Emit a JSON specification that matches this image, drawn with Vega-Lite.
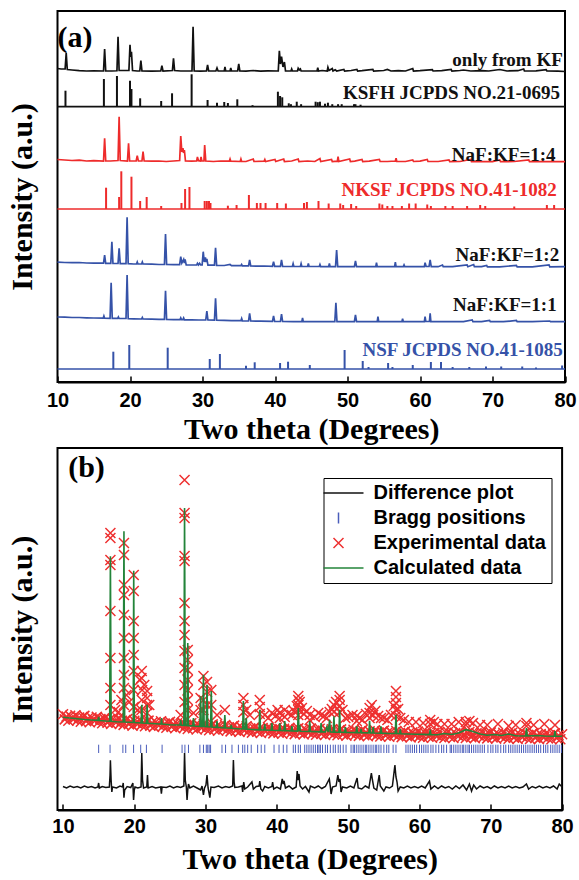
{
  "$schema": "https://vega.github.io/schema/vega-lite/v6.json",
  "background": "white",
  "padding": {"left": 6.5, "top": 10, "right": 8, "bottom": 0},
  "config": {
    "view": {"stroke": "black", "strokeWidth": 2},
    "font": "Liberation Sans"
  },
  "datasets": {
    "aLines": [
      {"s":"KF","x":10,"y":313.5},{"s":"KF","x":10.5,"y":313},{"s":"KF","x":11.05,"y":313},{"s":"KF","x":11.2,"y":329},{"s":"KF","x":11.35,"y":312.5},{"s":"KF","x":12,"y":312},{"s":"KF","x":13,"y":311.3},{"s":"KF","x":14,"y":311},{"s":"KF","x":15,"y":311.2},{"s":"KF","x":16.35,"y":311},{"s":"KF","x":16.5,"y":333},{"s":"KF","x":16.65,"y":311},{"s":"KF","x":17.5,"y":311},{"s":"KF","x":18.2,"y":311.2},{"s":"KF","x":18.35,"y":345.3},{"s":"KF","x":18.5,"y":311.5},{"s":"KF","x":19.85,"y":311.5},{"s":"KF","x":20.0,"y":337.3},{"s":"KF","x":20.1,"y":325},{"s":"KF","x":20.2,"y":330.3},{"s":"KF","x":20.35,"y":311.5},{"s":"KF","x":21,"y":311},{"s":"KF","x":21.35,"y":311},{"s":"KF","x":21.5,"y":321.3},{"s":"KF","x":21.65,"y":311},{"s":"KF","x":23,"y":310.8},{"s":"KF","x":24.25,"y":311},{"s":"KF","x":24.4,"y":316.3},{"s":"KF","x":24.55,"y":311},{"s":"KF","x":25.85,"y":311.5},{"s":"KF","x":26.0,"y":323.7},{"s":"KF","x":26.15,"y":311.5},{"s":"KF","x":27,"y":311},{"s":"KF","x":28.55,"y":311},{"s":"KF","x":28.7,"y":355.3},{"s":"KF","x":28.85,"y":311},{"s":"KF","x":29.7,"y":310.8},{"s":"KF","x":30.55,"y":311},{"s":"KF","x":30.7,"y":317},{"s":"KF","x":30.85,"y":311},{"s":"KF","x":31.85,"y":311},{"s":"KF","x":32.0,"y":314},{"s":"KF","x":32.15,"y":311},{"s":"KF","x":33.0,"y":311},{"s":"KF","x":33.1,"y":315},{"s":"KF","x":33.2,"y":311},{"s":"KF","x":33.8,"y":311},{"s":"KF","x":33.9,"y":314},{"s":"KF","x":34.0,"y":311},{"s":"KF","x":34.85,"y":311},{"s":"KF","x":35.0,"y":318},{"s":"KF","x":35.15,"y":311},{"s":"KF","x":36,"y":310.8},{"s":"KF","x":37,"y":311.5},{"s":"KF","x":38,"y":310.8},{"s":"KF","x":39,"y":311.2},{"s":"KF","x":40.45,"y":311},{"s":"KF","x":40.6,"y":331.3},{"s":"KF","x":40.75,"y":318},{"s":"KF","x":40.9,"y":325.3},{"s":"KF","x":41.1,"y":315},{"s":"KF","x":41.3,"y":320},{"s":"KF","x":41.45,"y":311},{"s":"KF","x":42.2,"y":311},{"s":"KF","x":42.3,"y":313},{"s":"KF","x":42.4,"y":311},{"s":"KF","x":43.1,"y":311},{"s":"KF","x":43.2,"y":313.7},{"s":"KF","x":43.35,"y":312},{"s":"KF","x":43.5,"y":313},{"s":"KF","x":43.6,"y":311},{"s":"KF","x":44.5,"y":311},{"s":"KF","x":45.8,"y":311},{"s":"KF","x":45.9,"y":314.3},{"s":"KF","x":46.0,"y":311},{"s":"KF","x":46.5,"y":311.5},{"s":"KF","x":47.2,"y":311},{"s":"KF","x":47.3,"y":314.7},{"s":"KF","x":47.45,"y":311.5},{"s":"KF","x":47.9,"y":313.5},{"s":"KF","x":48.0,"y":311},{"s":"KF","x":48.3,"y":312.3},{"s":"KF","x":48.5,"y":311},{"s":"KF","x":49.5,"y":312.5},{"s":"KF","x":49.6,"y":311},{"s":"KF","x":50.5,"y":311.5},{"s":"KF","x":51.3,"y":312.5},{"s":"KF","x":51.4,"y":311},{"s":"KF","x":52,"y":311.3},{"s":"KF","x":53.5,"y":312.5},{"s":"KF","x":53.6,"y":311},{"s":"KF","x":55,"y":311.5},{"s":"KF","x":55.5,"y":312.5},{"s":"KF","x":56,"y":311},{"s":"KF","x":57,"y":311.3},{"s":"KF","x":58,"y":311},{"s":"KF","x":59.0,"y":313.5},{"s":"KF","x":59.1,"y":311},{"s":"KF","x":60,"y":311.3},{"s":"KF","x":61.7,"y":312.3},{"s":"KF","x":61.8,"y":311},{"s":"KF","x":63,"y":311.3},{"s":"KF","x":64.3,"y":312.5},{"s":"KF","x":64.4,"y":311},{"s":"KF","x":65.5,"y":311.5},{"s":"KF","x":66,"y":312},{"s":"KF","x":67,"y":311},{"s":"KF","x":68.5,"y":311.3},{"s":"KF","x":69.5,"y":311},{"s":"KF","x":71,"y":312.5},{"s":"KF","x":72,"y":311},{"s":"KF","x":73.5,"y":311.3},{"s":"KF","x":74.3,"y":313},{"s":"KF","x":74.4,"y":311},{"s":"KF","x":76,"y":311.2},{"s":"KF","x":77.4,"y":312.3},{"s":"KF","x":77.5,"y":311},{"s":"KF","x":79,"y":310.8},{"s":"KF","x":80,"y":310.5},
      {"s":"KSFH","x":10,"y":275.3},{"s":"KSFH","x":80,"y":275.3},
      {"s":"r14","x":10,"y":222.5},{"s":"r14","x":11,"y":222},{"s":"r14","x":12,"y":221.5},{"s":"r14","x":13,"y":221.8},{"s":"r14","x":14,"y":221},{"s":"r14","x":15,"y":221.3},{"s":"r14","x":16.35,"y":221},{"s":"r14","x":16.5,"y":243.7},{"s":"r14","x":16.65,"y":221},{"s":"r14","x":17.3,"y":221},{"s":"r14","x":18.35,"y":221.5},{"s":"r14","x":18.5,"y":265.3},{"s":"r14","x":18.65,"y":221.5},{"s":"r14","x":19.65,"y":221},{"s":"r14","x":19.8,"y":238.7},{"s":"r14","x":19.95,"y":221},{"s":"r14","x":20.85,"y":221},{"s":"r14","x":21.0,"y":226.3},{"s":"r14","x":21.15,"y":221},{"s":"r14","x":21.65,"y":221},{"s":"r14","x":21.8,"y":230.3},{"s":"r14","x":21.95,"y":221},{"s":"r14","x":23,"y":220.8},{"s":"r14","x":24,"y":221},{"s":"r14","x":25,"y":220.5},{"s":"r14","x":26,"y":221},{"s":"r14","x":26.85,"y":221.5},{"s":"r14","x":27.0,"y":246},{"s":"r14","x":27.15,"y":230},{"s":"r14","x":27.3,"y":234},{"s":"r14","x":27.4,"y":229},{"s":"r14","x":27.5,"y":232},{"s":"r14","x":27.65,"y":221},{"s":"r14","x":28.5,"y":220.8},{"s":"r14","x":29.2,"y":221},{"s":"r14","x":29.3,"y":225},{"s":"r14","x":29.45,"y":221.3},{"s":"r14","x":29.7,"y":221},{"s":"r14","x":29.8,"y":225},{"s":"r14","x":29.9,"y":221},{"s":"r14","x":30.2,"y":221},{"s":"r14","x":30.3,"y":237},{"s":"r14","x":30.45,"y":221},{"s":"r14","x":31.5,"y":220.5},{"s":"r14","x":32.5,"y":221},{"s":"r14","x":33.7,"y":220.8},{"s":"r14","x":33.8,"y":223},{"s":"r14","x":33.9,"y":220.8},{"s":"r14","x":35.2,"y":220.5},{"s":"r14","x":35.3,"y":223},{"s":"r14","x":35.4,"y":220.5},{"s":"r14","x":36,"y":220.5},{"s":"r14","x":37.0,"y":223},{"s":"r14","x":37.1,"y":220.5},{"s":"r14","x":38.5,"y":220.8},{"s":"r14","x":38.6,"y":222.5},{"s":"r14","x":38.7,"y":220.5},{"s":"r14","x":40.0,"y":222.5},{"s":"r14","x":40.1,"y":220.5},{"s":"r14","x":41.2,"y":223},{"s":"r14","x":41.3,"y":220.5},{"s":"r14","x":42.3,"y":221},{"s":"r14","x":43.2,"y":223},{"s":"r14","x":43.3,"y":220.5},{"s":"r14","x":44.5,"y":221},{"s":"r14","x":45.5,"y":220.5},{"s":"r14","x":46.2,"y":223.5},{"s":"r14","x":46.3,"y":220.5},{"s":"r14","x":47.8,"y":222.5},{"s":"r14","x":47.9,"y":220.5},{"s":"r14","x":48.6,"y":220.8},{"s":"r14","x":48.7,"y":225.3},{"s":"r14","x":48.8,"y":220.5},{"s":"r14","x":50.3,"y":223},{"s":"r14","x":50.4,"y":220.5},{"s":"r14","x":51,"y":220.8},{"s":"r14","x":52,"y":222.5},{"s":"r14","x":52.1,"y":220.5},{"s":"r14","x":53,"y":220.8},{"s":"r14","x":54.4,"y":222.5},{"s":"r14","x":54.5,"y":220.5},{"s":"r14","x":55.5,"y":220.5},{"s":"r14","x":56.6,"y":221},{"s":"r14","x":56.7,"y":223.7},{"s":"r14","x":56.8,"y":220.5},{"s":"r14","x":58,"y":220.5},{"s":"r14","x":59,"y":222},{"s":"r14","x":59.1,"y":220.5},{"s":"r14","x":60,"y":220.8},{"s":"r14","x":61,"y":222.5},{"s":"r14","x":61.1,"y":220.5},{"s":"r14","x":62.5,"y":220.5},{"s":"r14","x":64,"y":222},{"s":"r14","x":64.1,"y":220.3},{"s":"r14","x":65.5,"y":220.5},{"s":"r14","x":67,"y":222.5},{"s":"r14","x":67.1,"y":220.3},{"s":"r14","x":68.5,"y":220.5},{"s":"r14","x":70,"y":220.3},{"s":"r14","x":71,"y":222},{"s":"r14","x":71.1,"y":220.3},{"s":"r14","x":73,"y":220.5},{"s":"r14","x":75,"y":222},{"s":"r14","x":75.1,"y":220.3},{"s":"r14","x":77,"y":220.5},{"s":"r14","x":78.5,"y":220.3},{"s":"r14","x":80,"y":220.3},
      {"s":"NKSF","x":10,"y":173},{"s":"NKSF","x":80,"y":173},
      {"s":"r12","x":10,"y":119.8},{"s":"r12","x":11,"y":119.5},{"s":"r12","x":12,"y":119.3},{"s":"r12","x":13,"y":119.5},{"s":"r12","x":14,"y":119},{"s":"r12","x":15,"y":118.8},{"s":"r12","x":16.35,"y":118.8},{"s":"r12","x":16.5,"y":127},{"s":"r12","x":16.65,"y":118.6},{"s":"r12","x":17.35,"y":118.6},{"s":"r12","x":17.5,"y":140.3},{"s":"r12","x":17.65,"y":118.5},{"s":"r12","x":18.35,"y":118.5},{"s":"r12","x":18.5,"y":133.7},{"s":"r12","x":18.65,"y":118.4},{"s":"r12","x":19.45,"y":118.4},{"s":"r12","x":19.6,"y":164.7},{"s":"r12","x":19.75,"y":118.4},{"s":"r12","x":20.5,"y":118},{"s":"r12","x":20.9,"y":118},{"s":"r12","x":21.0,"y":120},{"s":"r12","x":21.1,"y":118},{"s":"r12","x":21.6,"y":118},{"s":"r12","x":21.7,"y":120},{"s":"r12","x":21.8,"y":118},{"s":"r12","x":23,"y":117.8},{"s":"r12","x":24,"y":117.5},{"s":"r12","x":24.75,"y":117.5},{"s":"r12","x":24.9,"y":148},{"s":"r12","x":25.05,"y":117.5},{"s":"r12","x":26,"y":117.3},{"s":"r12","x":26.85,"y":117.3},{"s":"r12","x":27.0,"y":125.3},{"s":"r12","x":27.15,"y":119},{"s":"r12","x":27.4,"y":122.7},{"s":"r12","x":27.5,"y":119},{"s":"r12","x":27.6,"y":122.7},{"s":"r12","x":27.75,"y":117.2},{"s":"r12","x":29.2,"y":117},{"s":"r12","x":29.3,"y":118.7},{"s":"r12","x":29.45,"y":117},{"s":"r12","x":29.6,"y":118.7},{"s":"r12","x":29.75,"y":117},{"s":"r12","x":29.95,"y":117},{"s":"r12","x":30.1,"y":130.3},{"s":"r12","x":30.25,"y":120},{"s":"r12","x":30.4,"y":124.7},{"s":"r12","x":30.5,"y":120},{"s":"r12","x":30.6,"y":123},{"s":"r12","x":30.75,"y":116.8},{"s":"r12","x":31.65,"y":116.8},{"s":"r12","x":31.8,"y":134.3},{"s":"r12","x":31.95,"y":116.7},{"s":"r12","x":33,"y":116.5},{"s":"r12","x":33.8,"y":117.5},{"s":"r12","x":34,"y":116.3},{"s":"r12","x":35.3,"y":116.3},{"s":"r12","x":35.4,"y":117.5},{"s":"r12","x":35.5,"y":116.2},{"s":"r12","x":36.35,"y":116.2},{"s":"r12","x":36.5,"y":122},{"s":"r12","x":36.65,"y":116},{"s":"r12","x":37.5,"y":115.8},{"s":"r12","x":38.5,"y":116},{"s":"r12","x":39.65,"y":115.7},{"s":"r12","x":39.8,"y":120.3},{"s":"r12","x":39.95,"y":115.7},{"s":"r12","x":40.75,"y":115.7},{"s":"r12","x":40.9,"y":122},{"s":"r12","x":41.05,"y":115.7},{"s":"r12","x":42.4,"y":115.5},{"s":"r12","x":42.5,"y":118.3},{"s":"r12","x":42.6,"y":115.5},{"s":"r12","x":43.5,"y":115.5},{"s":"r12","x":43.6,"y":118.3},{"s":"r12","x":43.7,"y":115.5},{"s":"r12","x":44.5,"y":115.5},{"s":"r12","x":44.6,"y":118.5},{"s":"r12","x":44.7,"y":115.5},{"s":"r12","x":46.1,"y":115.5},{"s":"r12","x":46.2,"y":117.5},{"s":"r12","x":46.3,"y":115.4},{"s":"r12","x":47.4,"y":115.4},{"s":"r12","x":47.5,"y":118.5},{"s":"r12","x":47.6,"y":115.4},{"s":"r12","x":48.35,"y":115.4},{"s":"r12","x":48.5,"y":132},{"s":"r12","x":48.65,"y":115.4},{"s":"r12","x":49.5,"y":115.3},{"s":"r12","x":50.95,"y":115.3},{"s":"r12","x":51.1,"y":121},{"s":"r12","x":51.25,"y":115.3},{"s":"r12","x":52.5,"y":115.3},{"s":"r12","x":53.9,"y":115.3},{"s":"r12","x":54.0,"y":119.3},{"s":"r12","x":54.1,"y":115.3},{"s":"r12","x":55.5,"y":115.3},{"s":"r12","x":56.5,"y":115.3},{"s":"r12","x":56.6,"y":119.8},{"s":"r12","x":56.7,"y":115.3},{"s":"r12","x":57.7,"y":115.3},{"s":"r12","x":57.8,"y":117},{"s":"r12","x":57.9,"y":115.3},{"s":"r12","x":59,"y":115.3},{"s":"r12","x":60.6,"y":115.3},{"s":"r12","x":60.7,"y":119.3},{"s":"r12","x":60.85,"y":115.5},{"s":"r12","x":61.25,"y":115.5},{"s":"r12","x":61.4,"y":122},{"s":"r12","x":61.55,"y":115.3},{"s":"r12","x":62.5,"y":115.3},{"s":"r12","x":63.1,"y":117},{"s":"r12","x":63.2,"y":115.3},{"s":"r12","x":64.5,"y":115.3},{"s":"r12","x":66.5,"y":117},{"s":"r12","x":66.6,"y":115.3},{"s":"r12","x":67.4,"y":117.5},{"s":"r12","x":67.5,"y":115.3},{"s":"r12","x":68.5,"y":115.3},{"s":"r12","x":69.2,"y":116.5},{"s":"r12","x":69.3,"y":115.2},{"s":"r12","x":71,"y":115.2},{"s":"r12","x":73.3,"y":116.5},{"s":"r12","x":73.4,"y":115.2},{"s":"r12","x":75.5,"y":115.2},{"s":"r12","x":77.8,"y":117},{"s":"r12","x":77.9,"y":115.2},{"s":"r12","x":80,"y":115.3},
      {"s":"r11","x":10,"y":65},{"s":"r11","x":11,"y":64.8},{"s":"r11","x":12,"y":64.5},{"s":"r11","x":13,"y":64.5},{"s":"r11","x":14,"y":64.2},{"s":"r11","x":15,"y":64},{"s":"r11","x":16.3,"y":63.8},{"s":"r11","x":16.4,"y":66},{"s":"r11","x":16.5,"y":63.8},{"s":"r11","x":17.25,"y":63.7},{"s":"r11","x":17.4,"y":99.3},{"s":"r11","x":17.55,"y":63.7},{"s":"r11","x":18.3,"y":63.6},{"s":"r11","x":18.4,"y":65},{"s":"r11","x":18.5,"y":63.5},{"s":"r11","x":19.45,"y":63.5},{"s":"r11","x":19.6,"y":107},{"s":"r11","x":19.75,"y":63.4},{"s":"r11","x":20.5,"y":63.2},{"s":"r11","x":21.6,"y":63},{"s":"r11","x":21.7,"y":64.5},{"s":"r11","x":21.8,"y":63},{"s":"r11","x":23,"y":62.8},{"s":"r11","x":24,"y":62.6},{"s":"r11","x":24.75,"y":62.6},{"s":"r11","x":24.9,"y":91.3},{"s":"r11","x":25.05,"y":62.5},{"s":"r11","x":26,"y":62.4},{"s":"r11","x":26.9,"y":62.3},{"s":"r11","x":27.0,"y":64},{"s":"r11","x":27.1,"y":62.3},{"s":"r11","x":27.3,"y":62.3},{"s":"r11","x":27.4,"y":64},{"s":"r11","x":27.5,"y":62.2},{"s":"r11","x":28.5,"y":62.1},{"s":"r11","x":29.5,"y":62},{"s":"r11","x":30.45,"y":62},{"s":"r11","x":30.6,"y":71},{"s":"r11","x":30.75,"y":62},{"s":"r11","x":31.65,"y":61.9},{"s":"r11","x":31.8,"y":83.7},{"s":"r11","x":31.95,"y":61.8},{"s":"r11","x":33,"y":61.6},{"s":"r11","x":34,"y":61.4},{"s":"r11","x":35.3,"y":61.3},{"s":"r11","x":35.4,"y":63.5},{"s":"r11","x":35.5,"y":61.2},{"s":"r11","x":36.35,"y":61},{"s":"r11","x":36.5,"y":68.7},{"s":"r11","x":36.65,"y":61},{"s":"r11","x":38,"y":60.8},{"s":"r11","x":39.65,"y":60.6},{"s":"r11","x":39.8,"y":66},{"s":"r11","x":39.95,"y":60.6},{"s":"r11","x":40.75,"y":60.5},{"s":"r11","x":40.9,"y":68},{"s":"r11","x":41.05,"y":60.5},{"s":"r11","x":42.5,"y":60.4},{"s":"r11","x":43.7,"y":60.4},{"s":"r11","x":43.8,"y":64},{"s":"r11","x":43.9,"y":60.4},{"s":"r11","x":45,"y":60.3},{"s":"r11","x":46.5,"y":60.3},{"s":"r11","x":48.25,"y":60.3},{"s":"r11","x":48.4,"y":79.3},{"s":"r11","x":48.55,"y":60.3},{"s":"r11","x":49.5,"y":60.3},{"s":"r11","x":50.95,"y":60.3},{"s":"r11","x":51.1,"y":67},{"s":"r11","x":51.25,"y":60.3},{"s":"r11","x":52.5,"y":60.3},{"s":"r11","x":54.1,"y":60.3},{"s":"r11","x":54.2,"y":65.3},{"s":"r11","x":54.3,"y":60.3},{"s":"r11","x":56,"y":60.3},{"s":"r11","x":57.5,"y":60.3},{"s":"r11","x":57.6,"y":63.3},{"s":"r11","x":57.7,"y":60.3},{"s":"r11","x":59,"y":60.3},{"s":"r11","x":60.6,"y":60.3},{"s":"r11","x":60.7,"y":65.3},{"s":"r11","x":60.8,"y":60.5},{"s":"r11","x":61.3,"y":60.5},{"s":"r11","x":61.4,"y":68.7},{"s":"r11","x":61.5,"y":60.3},{"s":"r11","x":63,"y":60.3},{"s":"r11","x":64.5,"y":60.3},{"s":"r11","x":66,"y":60.3},{"s":"r11","x":67.2,"y":62},{"s":"r11","x":67.3,"y":60.3},{"s":"r11","x":68.5,"y":60.3},{"s":"r11","x":69.6,"y":61.5},{"s":"r11","x":69.7,"y":60.3},{"s":"r11","x":71.5,"y":60.3},{"s":"r11","x":73.3,"y":61.5},{"s":"r11","x":73.4,"y":60.3},{"s":"r11","x":75.5,"y":60.3},{"s":"r11","x":77.9,"y":61},{"s":"r11","x":78,"y":60.3},{"s":"r11","x":80,"y":60.3},
      {"s":"NSF","x":10,"y":13},{"s":"NSF","x":80,"y":13}
    ],
    "aSticks": [
      {"s":"KSFH","x":11.1,"lo":275.3,"hi":291.3},{"s":"KSFH","x":16.4,"lo":275.3,"hi":303},{"s":"KSFH","x":18.2,"lo":275.3,"hi":306},{"s":"KSFH","x":20.0,"lo":275.3,"hi":301.3},{"s":"KSFH","x":20.2,"lo":275.3,"hi":293},{"s":"KSFH","x":21.4,"lo":275.3,"hi":283.7},{"s":"KSFH","x":24.3,"lo":275.3,"hi":281},{"s":"KSFH","x":25.8,"lo":275.3,"hi":288.7},{"s":"KSFH","x":28.5,"lo":275.3,"hi":307.7},{"s":"KSFH","x":30.7,"lo":275.3,"hi":282},{"s":"KSFH","x":32.0,"lo":275.3,"hi":279.3},{"s":"KSFH","x":33.0,"lo":275.3,"hi":280},{"s":"KSFH","x":33.5,"lo":275.3,"hi":279},{"s":"KSFH","x":34.8,"lo":275.3,"hi":282.7},{"s":"KSFH","x":36.9,"lo":275.3,"hi":276.8},{"s":"KSFH","x":40.4,"lo":275.3,"hi":290.3},{"s":"KSFH","x":40.7,"lo":275.3,"hi":286},{"s":"KSFH","x":41.0,"lo":275.3,"hi":284.7},{"s":"KSFH","x":41.9,"lo":275.3,"hi":278.7},{"s":"KSFH","x":42.2,"lo":275.3,"hi":277.8},{"s":"KSFH","x":43.0,"lo":275.3,"hi":280.3},{"s":"KSFH","x":43.6,"lo":275.3,"hi":277.8},{"s":"KSFH","x":45.6,"lo":275.3,"hi":280.3},{"s":"KSFH","x":45.9,"lo":275.3,"hi":279.8},{"s":"KSFH","x":46.2,"lo":275.3,"hi":280.3},{"s":"KSFH","x":46.9,"lo":275.3,"hi":278.3},{"s":"KSFH","x":47.3,"lo":275.3,"hi":279.3},{"s":"KSFH","x":47.9,"lo":275.3,"hi":277.8},{"s":"KSFH","x":48.7,"lo":275.3,"hi":277.8},{"s":"KSFH","x":49.2,"lo":275.3,"hi":277.8},{"s":"KSFH","x":50.9,"lo":275.3,"hi":277.8},{"s":"KSFH","x":51.1,"lo":275.3,"hi":277.8},{"s":"KSFH","x":51.8,"lo":275.3,"hi":277.3},
      {"s":"NKSF","x":16.7,"lo":173,"hi":194.3},{"s":"NKSF","x":18.5,"lo":173,"hi":185},{"s":"NKSF","x":18.8,"lo":173,"hi":210.7},{"s":"NKSF","x":20.2,"lo":173,"hi":205.3},{"s":"NKSF","x":21.4,"lo":173,"hi":181},{"s":"NKSF","x":22.3,"lo":173,"hi":185},{"s":"NKSF","x":24.3,"lo":173,"hi":176},{"s":"NKSF","x":27.1,"lo":173,"hi":179},{"s":"NKSF","x":27.6,"lo":173,"hi":193},{"s":"NKSF","x":28.2,"lo":173,"hi":195},{"s":"NKSF","x":30.3,"lo":173,"hi":181},{"s":"NKSF","x":30.6,"lo":173,"hi":181},{"s":"NKSF","x":30.9,"lo":173,"hi":181},{"s":"NKSF","x":31.1,"lo":173,"hi":179},{"s":"NKSF","x":33.5,"lo":173,"hi":176.3},{"s":"NKSF","x":34.7,"lo":173,"hi":177},{"s":"NKSF","x":36.4,"lo":173,"hi":187},{"s":"NKSF","x":37.5,"lo":173,"hi":179},{"s":"NKSF","x":38.0,"lo":173,"hi":179},{"s":"NKSF","x":38.7,"lo":173,"hi":179},{"s":"NKSF","x":40.3,"lo":173,"hi":179},{"s":"NKSF","x":41.5,"lo":173,"hi":178.5},{"s":"NKSF","x":44.0,"lo":173,"hi":179},{"s":"NKSF","x":44.4,"lo":173,"hi":180},{"s":"NKSF","x":46.0,"lo":173,"hi":181},{"s":"NKSF","x":47.4,"lo":173,"hi":178.5},{"s":"NKSF","x":49.0,"lo":173,"hi":178.5},{"s":"NKSF","x":49.4,"lo":173,"hi":177},{"s":"NKSF","x":50.5,"lo":173,"hi":178},{"s":"NKSF","x":51.2,"lo":173,"hi":176},{"s":"NKSF","x":54.4,"lo":173,"hi":178.5},{"s":"NKSF","x":54.8,"lo":173,"hi":177.5},{"s":"NKSF","x":55.5,"lo":173,"hi":176},{"s":"NKSF","x":56.2,"lo":173,"hi":176},{"s":"NKSF","x":57.5,"lo":173,"hi":176},{"s":"NKSF","x":58.5,"lo":173,"hi":178.5},{"s":"NKSF","x":59.4,"lo":173,"hi":178.5},{"s":"NKSF","x":61.0,"lo":173,"hi":177.5},{"s":"NKSF","x":61.5,"lo":173,"hi":176},{"s":"NKSF","x":63.5,"lo":173,"hi":176},{"s":"NKSF","x":64.5,"lo":173,"hi":176},{"s":"NKSF","x":66.5,"lo":173,"hi":176},{"s":"NKSF","x":68.3,"lo":173,"hi":177},{"s":"NKSF","x":69.0,"lo":173,"hi":176},{"s":"NKSF","x":73.0,"lo":173,"hi":175.5},{"s":"NKSF","x":77.5,"lo":173,"hi":177},{"s":"NKSF","x":78.5,"lo":173,"hi":177},
      {"s":"NSF","x":17.7,"lo":13,"hi":30.3},{"s":"NSF","x":19.9,"lo":13,"hi":37},{"s":"NSF","x":25.2,"lo":13,"hi":34.3},{"s":"NSF","x":31.0,"lo":13,"hi":23},{"s":"NSF","x":32.4,"lo":13,"hi":28},{"s":"NSF","x":36.0,"lo":13,"hi":16.3},{"s":"NSF","x":37.2,"lo":13,"hi":19.7},{"s":"NSF","x":40.7,"lo":13,"hi":19},{"s":"NSF","x":41.8,"lo":13,"hi":20.3},{"s":"NSF","x":44.8,"lo":13,"hi":17},{"s":"NSF","x":49.6,"lo":13,"hi":32},{"s":"NSF","x":52.1,"lo":13,"hi":21},{"s":"NSF","x":52.9,"lo":13,"hi":15},{"s":"NSF","x":55.6,"lo":13,"hi":19},{"s":"NSF","x":56.2,"lo":13,"hi":15},{"s":"NSF","x":59.0,"lo":13,"hi":17},{"s":"NSF","x":61.5,"lo":13,"hi":20},{"s":"NSF","x":62.9,"lo":13,"hi":20},{"s":"NSF","x":64.5,"lo":13,"hi":15},{"s":"NSF","x":66.8,"lo":13,"hi":15},{"s":"NSF","x":69.1,"lo":13,"hi":15.5},{"s":"NSF","x":71.2,"lo":13,"hi":15.5},{"s":"NSF","x":74.1,"lo":13,"hi":15.5},{"s":"NSF","x":76.0,"lo":13,"hi":14.5},{"s":"NSF","x":79.6,"lo":13,"hi":16.5}
    ],
    "aText": [
      {"t":"only from KF","x":79.7,"y":322,"g":"k"},
      {"t":"KSFH JCPDS NO.21-0695","x":79.3,"y":289.3,"g":"k"},
      {"t":"NaF:KF=1:4","x":78.7,"y":227,"g":"k"},
      {"t":"NKSF JCPDS NO.41-1082","x":78.85,"y":192,"g":"r"},
      {"t":"NaF:KF=1:2","x":79.2,"y":127,"g":"k"},
      {"t":"NaF:KF=1:1","x":78.85,"y":77,"g":"k"},
      {"t":"NSF JCPDS NO.41-1085","x":79.7,"y":32,"g":"b"}
    ],
    "exp": [
      {"x":10,"y":95.7},{"x":10.25,"y":90.6},{"x":10.5,"y":93.4},{"x":10.75,"y":89.3},{"x":11,"y":94.2},{"x":11.25,"y":92},{"x":11.5,"y":90.9},{"x":11.75,"y":94.7},{"x":12,"y":89.6},{"x":12.25,"y":92.5},{"x":12.5,"y":88.3},{"x":12.75,"y":93.2},{"x":13,"y":94.1},{"x":13.25,"y":88.9},{"x":13.5,"y":91.8},{"x":13.75,"y":87.7},{"x":14,"y":92.5},{"x":14.25,"y":90.4},{"x":14.5,"y":89.3},{"x":14.75,"y":93.1},{"x":15,"y":88},{"x":15.25,"y":90.9},{"x":15.5,"y":86.7},{"x":15.75,"y":91.6},{"x":16,"y":92.5},{"x":16.25,"y":87.3},{"x":16.5,"y":90.2},{"x":16.75,"y":86.1},{"x":17,"y":90.9},{"x":17.25,"y":88.8},{"x":17.5,"y":87.7},{"x":17.75,"y":91.5},{"x":18,"y":86.4},{"x":18.25,"y":89.3},{"x":18.5,"y":85.1},{"x":18.75,"y":90},{"x":19,"y":90.9},{"x":19.25,"y":85.7},{"x":19.5,"y":88.6},{"x":19.75,"y":84.4},{"x":20,"y":89.3},{"x":20.25,"y":87.2},{"x":20.5,"y":86.1},{"x":20.75,"y":90},{"x":21,"y":84.9},{"x":21.25,"y":87.8},{"x":21.5,"y":83.7},{"x":21.75,"y":88.6},{"x":22,"y":89.4},{"x":22.25,"y":84.3},{"x":22.5,"y":87.2},{"x":22.75,"y":83.1},{"x":23,"y":88},{"x":23.25,"y":85.9},{"x":23.5,"y":84.8},{"x":23.75,"y":88.7},{"x":24,"y":83.6},{"x":24.25,"y":86.5},{"x":24.5,"y":82.3},{"x":24.75,"y":87.2},{"x":25,"y":88.1},{"x":25.25,"y":83},{"x":25.5,"y":85.9},{"x":25.75,"y":81.8},{"x":26,"y":86.7},{"x":26.25,"y":84.6},{"x":26.5,"y":83.5},{"x":26.75,"y":87.4},{"x":27,"y":82.2},{"x":27.25,"y":85.1},{"x":27.5,"y":81},{"x":27.75,"y":85.9},{"x":28,"y":86.8},{"x":28.25,"y":81.7},{"x":28.5,"y":84.6},{"x":28.75,"y":80.5},{"x":29,"y":85.4},{"x":29.25,"y":83.3},{"x":29.5,"y":82.2},{"x":29.75,"y":86.1},{"x":30,"y":81},{"x":30.25,"y":83.9},{"x":30.5,"y":79.8},{"x":30.75,"y":84.7},{"x":31,"y":85.6},{"x":31.25,"y":80.5},{"x":31.5,"y":83.4},{"x":31.75,"y":79.3},{"x":32,"y":84.2},{"x":32.25,"y":82.1},{"x":32.5,"y":81},{"x":32.75,"y":84.9},{"x":33,"y":79.8},{"x":33.25,"y":82.7},{"x":33.5,"y":78.6},{"x":33.75,"y":83.5},{"x":34,"y":84.4},{"x":34.25,"y":79.3},{"x":34.5,"y":82.2},{"x":34.75,"y":78.1},{"x":35,"y":83},{"x":35.25,"y":80.9},{"x":35.5,"y":79.8},{"x":35.75,"y":83.7},{"x":36,"y":78.6},{"x":36.25,"y":81.5},{"x":36.5,"y":77.4},{"x":36.75,"y":82.3},{"x":37,"y":83.3},{"x":37.25,"y":78.2},{"x":37.5,"y":81.1},{"x":37.75,"y":77},{"x":38,"y":82},{"x":38.25,"y":79.9},{"x":38.5,"y":78.8},{"x":38.75,"y":82.8},{"x":39,"y":77.7},{"x":39.25,"y":80.6},{"x":39.5,"y":76.6},{"x":39.75,"y":81.5},{"x":40,"y":82.5},{"x":40.25,"y":77.4},{"x":40.5,"y":80.4},{"x":40.75,"y":76.3},{"x":41,"y":81.3},{"x":41.25,"y":79.2},{"x":41.5,"y":78.1},{"x":41.75,"y":82.1},{"x":42,"y":77},{"x":42.25,"y":80},{"x":42.5,"y":75.9},{"x":42.75,"y":80.9},{"x":43,"y":81.8},{"x":43.25,"y":76.7},{"x":43.5,"y":79.7},{"x":43.75,"y":75.6},{"x":44,"y":80.6},{"x":44.25,"y":78.5},{"x":44.5,"y":77.5},{"x":44.75,"y":81.4},{"x":45,"y":76.4},{"x":45.25,"y":79.3},{"x":45.5,"y":75.3},{"x":45.75,"y":80.2},{"x":46,"y":81.2},{"x":46.25,"y":76.1},{"x":46.5,"y":79.1},{"x":46.75,"y":75},{"x":47,"y":80},{"x":47.25,"y":77.9},{"x":47.5,"y":76.9},{"x":47.75,"y":80.8},{"x":48,"y":75.8},{"x":48.25,"y":78.7},{"x":48.5,"y":74.7},{"x":48.75,"y":79.6},{"x":49,"y":80.6},{"x":49.25,"y":75.5},{"x":49.5,"y":78.5},{"x":49.75,"y":74.4},{"x":50,"y":79.4},{"x":50.25,"y":77.3},{"x":50.5,"y":76.3},{"x":50.75,"y":80.2},{"x":51,"y":75.2},{"x":51.25,"y":78.1},{"x":51.5,"y":74.1},{"x":51.75,"y":79},{"x":52,"y":80},{"x":52.25,"y":74.9},{"x":52.5,"y":77.9},{"x":52.75,"y":73.8},{"x":53,"y":78.8},{"x":53.25,"y":76.7},{"x":53.5,"y":75.7},{"x":53.75,"y":79.6},{"x":54,"y":74.6},{"x":54.25,"y":77.5},{"x":54.5,"y":73.5},{"x":54.75,"y":78.4},{"x":55,"y":79.4},{"x":55.25,"y":74.3},{"x":55.5,"y":77.3},{"x":55.75,"y":73.2},{"x":56,"y":78.2},{"x":56.25,"y":76.1},{"x":56.5,"y":75.1},{"x":56.75,"y":79},{"x":57,"y":74},{"x":57.25,"y":76.9},{"x":57.5,"y":72.9},{"x":57.75,"y":77.8},{"x":58,"y":78.8},{"x":58.25,"y":73.7},{"x":58.5,"y":76.7},{"x":58.75,"y":72.6},{"x":59,"y":77.6},{"x":59.25,"y":75.5},{"x":59.5,"y":74.5},{"x":59.75,"y":78.4},{"x":60,"y":73.4},{"x":60.25,"y":76.4},{"x":60.5,"y":72.3},{"x":60.75,"y":77.3},{"x":61,"y":78.3},{"x":61.25,"y":73.2},{"x":61.5,"y":76.2},{"x":61.75,"y":72.2},{"x":62,"y":77.1},{"x":62.25,"y":75.1},{"x":62.5,"y":74.1},{"x":62.75,"y":78},{"x":63,"y":73},{"x":63.25,"y":76},{"x":63.5,"y":72},{"x":63.75,"y":77},{"x":64,"y":78},{"x":64.25,"y":73},{"x":64.5,"y":76},{"x":64.75,"y":72},{"x":65,"y":77},{"x":65.25,"y":75},{"x":65.5,"y":74},{"x":65.75,"y":78},{"x":66,"y":73},{"x":66.25,"y":76},{"x":66.5,"y":72},{"x":66.75,"y":77},{"x":67,"y":78},{"x":67.25,"y":72.9},{"x":67.5,"y":75.9},{"x":67.75,"y":71.9},{"x":68,"y":76.8},{"x":68.25,"y":74.8},{"x":68.5,"y":73.8},{"x":68.75,"y":77.7},{"x":69,"y":72.7},{"x":69.25,"y":75.7},{"x":69.5,"y":71.6},{"x":69.75,"y":76.6},{"x":70,"y":77.5},{"x":70.25,"y":72.5},{"x":70.5,"y":75.5},{"x":70.75,"y":71.4},{"x":71,"y":76.4},{"x":71.25,"y":74.4},{"x":71.5,"y":73.4},{"x":71.75,"y":77.3},{"x":72,"y":72.3},{"x":72.25,"y":75.3},{"x":72.5,"y":71.2},{"x":72.75,"y":76.2},{"x":73,"y":77.2},{"x":73.25,"y":72.2},{"x":73.5,"y":75.1},{"x":73.75,"y":71.1},{"x":74,"y":76},{"x":74.25,"y":74},{"x":74.5,"y":73},{"x":74.75,"y":77},{"x":75,"y":72},{"x":75.25,"y":75},{"x":75.5,"y":71},{"x":75.75,"y":76},{"x":76,"y":77},{"x":76.25,"y":72},{"x":76.5,"y":74.9},{"x":76.75,"y":70.9},{"x":77,"y":75.9},{"x":77.25,"y":73.9},{"x":77.5,"y":72.9},{"x":77.75,"y":76.8},{"x":78,"y":71.8},{"x":78.25,"y":74.8},{"x":78.5,"y":70.8},{"x":78.75,"y":75.8},{"x":79,"y":76.8},{"x":79.25,"y":71.7},{"x":79.5,"y":74.7},{"x":79.75,"y":70.7},{"x":80,"y":75.7},
      {"x":16.65,"y":277},{"x":16.65,"y":272},{"x":16.65,"y":250},{"x":16.65,"y":245},{"x":16.65,"y":199},{"x":16.65,"y":152},{"x":16.65,"y":122},{"x":16.65,"y":105},
      {"x":18.55,"y":267},{"x":18.55,"y":255},{"x":18.55,"y":225},{"x":18.55,"y":215},{"x":18.55,"y":195},{"x":18.55,"y":172},{"x":18.55,"y":152},{"x":18.55,"y":135},{"x":18.55,"y":122},{"x":18.55,"y":105},
      {"x":19.92,"y":235},{"x":19.92,"y":219},{"x":19.92,"y":189},{"x":19.92,"y":172},{"x":19.92,"y":155},{"x":19.92,"y":139},{"x":19.92,"y":120},{"x":19.92,"y":103},
      {"x":21.05,"y":139},{"x":21.0,"y":132},{"x":21.1,"y":120},{"x":21.05,"y":110},{"x":21.0,"y":100},
      {"x":21.8,"y":119},{"x":21.8,"y":112},{"x":21.8,"y":105},{"x":21.8,"y":97},
      {"x":18.2,"y":110},{"x":18.9,"y":115},{"x":19.3,"y":108},{"x":20.5,"y":100},{"x":21.4,"y":125},{"x":22.1,"y":105},{"x":20.8,"y":130},{"x":17.3,"y":100},{"x":17.8,"y":98},
      {"x":27.05,"y":330},{"x":27.05,"y":297},{"x":27.05,"y":292},{"x":27.05,"y":254},{"x":27.05,"y":249},{"x":27.05,"y":207},{"x":27.05,"y":189},{"x":27.05,"y":175},{"x":27.05,"y":159},{"x":27.05,"y":142},{"x":27.05,"y":125},{"x":27.05,"y":108},
      {"x":27.5,"y":160},{"x":27.5,"y":150},{"x":27.5,"y":140},{"x":27.5,"y":130},{"x":27.5,"y":120},{"x":27.5,"y":110},{"x":27.5,"y":100},{"x":26.5,"y":95},{"x":28.3,"y":97},
      {"x":29.3,"y":112},{"x":29.3,"y":100},{"x":29.7,"y":134},{"x":29.7,"y":125},{"x":29.7,"y":110},{"x":29.7,"y":100},{"x":30.2,"y":128},{"x":30.2,"y":118},{"x":30.2,"y":105},{"x":30.8,"y":120},{"x":30.8,"y":105},{"x":31.6,"y":95},{"x":32.7,"y":100},
      {"x":35.3,"y":112},{"x":35.3,"y":105},{"x":35.3,"y":98},{"x":35.7,"y":100},{"x":36.2,"y":95},{"x":37.6,"y":110},{"x":37.6,"y":103},{"x":37.6,"y":96},{"x":38.3,"y":95},{"x":39.3,"y":97},{"x":40.4,"y":97},{"x":40.4,"y":92},{"x":41.1,"y":100},{"x":41.1,"y":93},{"x":42.1,"y":95},
      {"x":43.0,"y":114},{"x":43.0,"y":110},{"x":43.0,"y":105},{"x":43.0,"y":100},{"x":43.0,"y":95},{"x":43.2,"y":108},{"x":42.8,"y":104},{"x":44.6,"y":95},{"x":44.6,"y":90},{"x":46.2,"y":95},{"x":47.0,"y":92},{"x":47.4,"y":98},{"x":48.0,"y":105},{"x":48.0,"y":98},
      {"x":48.8,"y":114},{"x":48.8,"y":110},{"x":48.8,"y":104},{"x":48.8,"y":98},{"x":49.6,"y":92},{"x":51.2,"y":94},{"x":51.2,"y":89},{"x":52.0,"y":90},{"x":53.0,"y":102},{"x":53.0,"y":97},{"x":53.0,"y":92},{"x":53.5,"y":95},{"x":54.6,"y":92},{"x":55.5,"y":90},
      {"x":56.7,"y":119},{"x":56.7,"y":113},{"x":56.7,"y":107},{"x":56.7,"y":100},{"x":56.7,"y":94},{"x":57.3,"y":92},{"x":58.5,"y":88},{"x":61.5,"y":90},{"x":61.5,"y":86},{"x":62.5,"y":86},{"x":63.5,"y":86},{"x":66.5,"y":88},{"x":66.5,"y":85},{"x":67.5,"y":87},{"x":68.5,"y":85},{"x":72.5,"y":84},{"x":75.0,"y":87},{"x":75.0,"y":84},{"x":79.0,"y":85},
      {"x":38.8,"y":92},{"x":39.8,"y":94},{"x":40.1,"y":100},{"x":41.6,"y":97},{"x":42.4,"y":99},{"x":43.5,"y":102},{"x":43.8,"y":96},{"x":44.2,"y":99},{"x":45.3,"y":93},{"x":45.8,"y":97},{"x":46.6,"y":94},{"x":47.7,"y":101},{"x":48.3,"y":108},{"x":49.2,"y":100},{"x":50.0,"y":93},{"x":50.6,"y":95},{"x":51.6,"y":92},{"x":52.5,"y":96},{"x":53.3,"y":105},{"x":53.8,"y":99},{"x":54.2,"y":94},{"x":55.0,"y":92},{"x":56.0,"y":95},{"x":56.4,"y":104},{"x":57.0,"y":101},{"x":57.8,"y":90},{"x":59.5,"y":88},{"x":60.5,"y":87},{"x":62.0,"y":88},{"x":64.5,"y":86},{"x":65.5,"y":88},{"x":67.0,"y":89},{"x":69.5,"y":85},{"x":71.0,"y":86},{"x":73.5,"y":85},{"x":76.0,"y":85},{"x":77.5,"y":86}
    ],
    "calc": [
      {"x":10,"y":92.7},{"x":11,"y":92},{"x":12,"y":91.2},{"x":13,"y":90.5},{"x":14,"y":90},{"x":14.9,"y":89.6},{"x":15.0,"y":93},{"x":15.1,"y":89.5},{"x":16,"y":89},{"x":16.55,"y":88.8},{"x":16.65,"y":253.7},{"x":16.75,"y":88.7},{"x":17.5,"y":88.3},{"x":18.45,"y":88},{"x":18.55,"y":278.7},{"x":18.65,"y":88},{"x":19.4,"y":87.7},{"x":19.85,"y":87.5},{"x":19.92,"y":239.3},{"x":20.0,"y":87.4},{"x":20.5,"y":87.2},{"x":20.95,"y":87},{"x":21.05,"y":105.3},{"x":21.15,"y":87},{"x":21.7,"y":86.8},{"x":21.8,"y":105.3},{"x":21.9,"y":86.8},{"x":22.5,"y":86.5},{"x":23.5,"y":86},{"x":23.75,"y":86},{"x":23.82,"y":92},{"x":23.9,"y":86},{"x":25,"y":85.3},{"x":26,"y":85},{"x":26.4,"y":85},{"x":26.5,"y":90},{"x":26.6,"y":84.8},{"x":26.95,"y":84.7},{"x":27.05,"y":302},{"x":27.15,"y":84.7},{"x":27.4,"y":84.5},{"x":27.5,"y":167},{"x":27.6,"y":84.4},{"x":28.2,"y":84.1},{"x":28.3,"y":92},{"x":28.4,"y":84},{"x":29.2,"y":83.7},{"x":29.3,"y":113.7},{"x":29.4,"y":83.6},{"x":29.6,"y":83.5},{"x":29.7,"y":135.3},{"x":29.8,"y":83.5},{"x":30.1,"y":83.3},{"x":30.2,"y":125.3},{"x":30.3,"y":83.2},{"x":30.7,"y":83},{"x":30.8,"y":119},{"x":30.9,"y":83},{"x":31.5,"y":82.7},{"x":31.6,"y":89},{"x":31.7,"y":82.7},{"x":32.6,"y":82.2},{"x":32.7,"y":95},{"x":32.8,"y":82.2},{"x":33.5,"y":81.8},{"x":33.6,"y":85},{"x":33.7,"y":81.7},{"x":34.5,"y":81.3},{"x":35.2,"y":81},{"x":35.3,"y":109},{"x":35.4,"y":81},{"x":35.6,"y":80.9},{"x":35.7,"y":92},{"x":35.8,"y":80.9},{"x":36.5,"y":80.5},{"x":37.5,"y":80.2},{"x":37.6,"y":100.3},{"x":37.7,"y":80.2},{"x":38.2,"y":80},{"x":38.3,"y":86},{"x":38.4,"y":80},{"x":39.2,"y":79.8},{"x":39.3,"y":87},{"x":39.4,"y":79.7},{"x":40.3,"y":79.5},{"x":40.4,"y":87},{"x":40.5,"y":79.5},{"x":41.0,"y":79.4},{"x":41.1,"y":89},{"x":41.2,"y":79.4},{"x":42.0,"y":79},{"x":42.1,"y":84},{"x":42.2,"y":79},{"x":42.9,"y":78.9},{"x":43.0,"y":102},{"x":43.1,"y":78.8},{"x":43.2,"y":85},{"x":43.3,"y":78.8},{"x":44.5,"y":78.5},{"x":44.6,"y":89},{"x":44.7,"y":78.5},{"x":45.5,"y":78.4},{"x":46.1,"y":78.2},{"x":46.2,"y":87},{"x":46.3,"y":78.2},{"x":46.8,"y":78.1},{"x":47.0,"y":83},{"x":47.2,"y":78},{"x":47.4,"y":90.3},{"x":47.5,"y":78},{"x":47.9,"y":77.9},{"x":48.0,"y":93.7},{"x":48.1,"y":77.9},{"x":48.7,"y":77.8},{"x":48.8,"y":100.3},{"x":48.9,"y":77.8},{"x":49.5,"y":77.6},{"x":49.6,"y":83},{"x":49.7,"y":77.6},{"x":50.5,"y":77.5},{"x":51.1,"y":77.4},{"x":51.2,"y":83.7},{"x":51.3,"y":77.4},{"x":51.7,"y":77.3},{"x":51.8,"y":81},{"x":51.9,"y":77.3},{"x":52.9,"y":77.1},{"x":53.0,"y":89.3},{"x":53.1,"y":77.1},{"x":53.4,"y":77},{"x":53.5,"y":83},{"x":53.6,"y":77},{"x":54.5,"y":76.8},{"x":54.6,"y":83.7},{"x":54.7,"y":76.8},{"x":55.5,"y":76.6},{"x":56.6,"y":76.5},{"x":56.7,"y":95.3},{"x":56.8,"y":76.5},{"x":57.2,"y":76.4},{"x":57.3,"y":81},{"x":57.4,"y":76.3},{"x":58.5,"y":76},{"x":59.5,"y":75.8},{"x":60.5,"y":75.6},{"x":61.4,"y":75.4},{"x":61.5,"y":80.3},{"x":61.6,"y":75.4},{"x":62.5,"y":75.3},{"x":63.5,"y":76.5},{"x":64.5,"y":75.5},{"x":65.5,"y":77},{"x":66.5,"y":80.3},{"x":67.5,"y":78.5},{"x":68.5,"y":76},{"x":69.5,"y":74.8},{"x":70.5,"y":75.5},{"x":71.5,"y":74.5},{"x":72.5,"y":76},{"x":73.5,"y":74.2},{"x":74.9,"y":74},{"x":75.0,"y":82},{"x":75.1,"y":74},{"x":76.5,"y":74.5},{"x":77.5,"y":74},{"x":78.9,"y":73.8},{"x":79.0,"y":79},{"x":79.1,"y":73.8},{"x":80,"y":73.7}
    ],
    "diff": [
      {"x":10,"y":23.5},{"x":10.5,"y":22},{"x":11,"y":24},{"x":11.5,"y":22.5},{"x":12,"y":23.5},{"x":12.5,"y":22},{"x":13,"y":24},{"x":13.5,"y":22.5},{"x":14,"y":23.5},{"x":14.5,"y":22},{"x":14.9,"y":23},{"x":15.0,"y":27},{"x":15.1,"y":22},{"x":15.5,"y":23.5},{"x":16,"y":22.5},{"x":16.5,"y":23},{"x":16.6,"y":35},{"x":16.65,"y":49.7},{"x":16.75,"y":30},{"x":16.85,"y":18},{"x":16.95,"y":23},{"x":17.5,"y":22},{"x":18,"y":24},{"x":18.35,"y":23},{"x":18.45,"y":27},{"x":18.55,"y":12.3},{"x":18.65,"y":20},{"x":19,"y":23.5},{"x":19.5,"y":22.5},{"x":19.8,"y":27},{"x":19.9,"y":10},{"x":20.0,"y":20},{"x":20.1,"y":23},{"x":20.5,"y":22},{"x":20.95,"y":23},{"x":21.05,"y":57},{"x":21.15,"y":30},{"x":21.3,"y":22},{"x":21.75,"y":23},{"x":21.85,"y":35},{"x":21.95,"y":22},{"x":22.5,"y":23.5},{"x":23,"y":22},{"x":23.7,"y":23},{"x":23.8,"y":16.3},{"x":23.9,"y":23},{"x":24.5,"y":22.5},{"x":25,"y":24},{"x":25.5,"y":22},{"x":26,"y":23.5},{"x":26.5,"y":22.5},{"x":26.95,"y":24},{"x":27.05,"y":57},{"x":27.15,"y":30},{"x":27.3,"y":23},{"x":27.4,"y":10},{"x":27.5,"y":20},{"x":27.6,"y":26},{"x":27.8,"y":22},{"x":28.3,"y":24},{"x":28.8,"y":22},{"x":29.3,"y":20},{"x":29.5,"y":24},{"x":29.7,"y":15},{"x":29.85,"y":22},{"x":30.05,"y":25},{"x":30.2,"y":35},{"x":30.35,"y":22},{"x":30.6,"y":12.3},{"x":30.75,"y":23},{"x":31.2,"y":22.5},{"x":31.8,"y":24},{"x":32.3,"y":22},{"x":32.8,"y":23.5},{"x":33.3,"y":22.5},{"x":33.8,"y":24},{"x":33.9,"y":50},{"x":34.0,"y":28},{"x":34.1,"y":22.5},{"x":34.6,"y":23},{"x":35.1,"y":24},{"x":35.2,"y":18},{"x":35.35,"y":28},{"x":35.5,"y":21},{"x":35.9,"y":23},{"x":36.5,"y":28},{"x":36.7,"y":21},{"x":37.1,"y":23.5},{"x":37.5,"y":24},{"x":37.6,"y":29},{"x":37.75,"y":21},{"x":38.0,"y":19},{"x":38.3,"y":23.5},{"x":38.8,"y":22},{"x":39.3,"y":23.5},{"x":39.4,"y":28},{"x":39.55,"y":21},{"x":40,"y":23},{"x":40.5,"y":21},{"x":40.75,"y":31},{"x":40.9,"y":26},{"x":41.0,"y":29},{"x":41.2,"y":22},{"x":41.7,"y":24},{"x":42.2,"y":21},{"x":42.7,"y":23},{"x":42.85,"y":39},{"x":42.95,"y":30},{"x":43.1,"y":36},{"x":43.25,"y":24},{"x":43.6,"y":21},{"x":44,"y":23.5},{"x":44.5,"y":18},{"x":44.7,"y":24},{"x":45.3,"y":22},{"x":45.8,"y":24},{"x":46.3,"y":21.5},{"x":46.8,"y":23.5},{"x":47.35,"y":31},{"x":47.5,"y":23},{"x":47.6,"y":16},{"x":47.8,"y":23},{"x":48.3,"y":24},{"x":48.55,"y":35},{"x":48.7,"y":28},{"x":48.85,"y":31},{"x":49.0,"y":18},{"x":49.2,"y":23},{"x":49.8,"y":22},{"x":50.3,"y":24},{"x":50.8,"y":22},{"x":51.25,"y":32},{"x":51.4,"y":22},{"x":51.9,"y":21},{"x":52.4,"y":24},{"x":52.9,"y":22},{"x":53.25,"y":37},{"x":53.4,"y":30},{"x":53.6,"y":22},{"x":54.0,"y":20},{"x":54.35,"y":35},{"x":54.5,"y":24},{"x":55.0,"y":19},{"x":55.3,"y":23},{"x":55.8,"y":22},{"x":56.2,"y":24},{"x":56.55,"y":45},{"x":56.7,"y":33},{"x":56.85,"y":28},{"x":57.0,"y":19},{"x":57.3,"y":23},{"x":57.8,"y":22},{"x":58.3,"y":24},{"x":58.8,"y":22},{"x":59.3,"y":23.5},{"x":59.8,"y":22},{"x":60.3,"y":24},{"x":60.8,"y":22},{"x":61.4,"y":29},{"x":61.6,"y":21},{"x":62.1,"y":24},{"x":62.6,"y":21.5},{"x":63.1,"y":24},{"x":63.6,"y":22},{"x":64.1,"y":23.5},{"x":64.6,"y":21},{"x":65.1,"y":24},{"x":65.6,"y":21.5},{"x":66.1,"y":25},{"x":66.6,"y":20},{"x":67.0,"y":26},{"x":67.3,"y":19},{"x":67.6,"y":25},{"x":68.0,"y":21},{"x":68.5,"y":24},{"x":69,"y":22},{"x":69.5,"y":23.5},{"x":70,"y":21.5},{"x":70.5,"y":24},{"x":71,"y":22},{"x":71.5,"y":23.5},{"x":72,"y":22},{"x":72.5,"y":24},{"x":73,"y":22},{"x":73.5,"y":23.5},{"x":74,"y":22},{"x":74.5,"y":23},{"x":75,"y":26},{"x":75.3,"y":21},{"x":75.8,"y":23.5},{"x":76.3,"y":22},{"x":76.8,"y":24},{"x":77.3,"y":22},{"x":77.8,"y":23.5},{"x":78.3,"y":22},{"x":78.8,"y":24},{"x":79.3,"y":21},{"x":79.6,"y":26},{"x":80,"y":23}
    ],
    "bragg": [
      {"x":15.0},{"x":16.6},{"x":18.4},{"x":18.8},{"x":19.9},{"x":20.9},{"x":21.7},{"x":23.9},{"x":26.7},{"x":27.1},{"x":27.6},{"x":29.2},{"x":29.7},{"x":30.1},{"x":30.3},{"x":30.5},{"x":30.7},{"x":32.3},{"x":32.8},{"x":33.7},{"x":34.6},{"x":35.2},{"x":35.5},{"x":35.9},{"x":36.4},{"x":37.3},{"x":37.8},{"x":38.3},{"x":39.6},{"x":40.3},{"x":40.9},{"x":41.4},{"x":42.3},{"x":42.6},{"x":43.0},{"x":43.3},{"x":43.9},{"x":44.2},{"x":44.5},{"x":44.8},{"x":45.1},{"x":45.4},{"x":45.7},{"x":45.9},{"x":46.1},{"x":46.4},{"x":46.8},{"x":47.1},{"x":47.5},{"x":47.9},{"x":48.2},{"x":48.6},{"x":48.9},{"x":49.3},{"x":49.7},{"x":50.4},{"x":50.7},{"x":50.9},{"x":51.2},{"x":51.5},{"x":51.8},{"x":52.1},{"x":52.4},{"x":52.6},{"x":52.9},{"x":53.2},{"x":53.5},{"x":53.8},{"x":54.0},{"x":54.3},{"x":54.6},{"x":55.0},{"x":55.4},{"x":55.7},{"x":56.3},{"x":56.7},{"x":58.1},{"x":58.4},{"x":58.7},{"x":59.0},{"x":59.3},{"x":59.6},{"x":60.0},{"x":60.3},{"x":60.6},{"x":60.9},{"x":61.2},{"x":61.6},{"x":61.9},{"x":62.3},{"x":62.7},{"x":63.1},{"x":63.4},{"x":63.8},{"x":64.3},{"x":64.5},{"x":64.8},{"x":65.1},{"x":65.4},{"x":65.7},{"x":66.0},{"x":66.2},{"x":66.5},{"x":66.8},{"x":67.0},{"x":67.3},{"x":67.6},{"x":67.9},{"x":68.2},{"x":68.5},{"x":68.8},{"x":69.1},{"x":69.6},{"x":70.0},{"x":70.3},{"x":70.7},{"x":71.0},{"x":71.4},{"x":71.8},{"x":72.1},{"x":72.5},{"x":72.8},{"x":73.1},{"x":73.4},{"x":73.7},{"x":74.0},{"x":74.3},{"x":74.6},{"x":74.9},{"x":75.2},{"x":75.5},{"x":75.8},{"x":76.1},{"x":76.4},{"x":76.7},{"x":77.0},{"x":77.4},{"x":77.7},{"x":78.0},{"x":78.4},{"x":78.7},{"x":79.0},{"x":79.3},{"x":79.6},{"x":79.9}
    ]
  },
  "concat": [
    {
      "width": 507.5,
      "height": 371,
      "layer": [
        {
          "data": {"name": "aLines"},
          "mark": {"type": "line", "strokeWidth": 1.7},
          "encoding": {
            "x": {"field": "x", "type": "quantitative", "scale": {"domain": [10, 80], "nice": false, "zero": false},
              "axis": {"title": "Two theta (Degrees)", "values": [10,15,20,25,30,35,40,45,50,55,60,65,70,75,80], "labelExpr": "datum.value % 10 === 0 ? datum.label : ''", "tickSize": -6, "tickWidth": 1.5, "tickColor": "black", "labelPadding": 14, "labelFont": "Liberation Sans", "labelFontSize": 20, "labelFontWeight": "bold", "labelColor": "black", "labelFlush": false, "labelOverlap": false, "titleFont": "Liberation Serif", "titleFontSize": 30, "titleFontWeight": "bold", "titleColor": "black", "titlePadding": 4, "domainColor": "black", "domainWidth": 2, "grid": false}},
            "y": {"field": "y", "type": "quantitative", "scale": {"domain": [0, 371], "nice": false, "zero": false},
              "axis": {"title": "Intensity (a.u.)", "labels": false, "ticks": false, "domain": false, "grid": false, "titleFont": "Liberation Serif", "titleFontSize": 30, "titleFontWeight": "bold", "titleColor": "black", "titlePadding": 20}},
            "color": {"field": "s", "type": "nominal", "scale": {"domain": ["KF","KSFH","r14","NKSF","r12","r11","NSF"], "range": ["#111111","#111111","#ee2b2b","#ee2b2b","#3552a8","#3552a8","#3552a8"]}, "legend": null}
          }
        },
        {
          "data": {"name": "aSticks"},
          "mark": {"type": "rule", "strokeWidth": 2},
          "encoding": {
            "x": {"field": "x", "type": "quantitative"},
            "y": {"field": "lo", "type": "quantitative"},
            "y2": {"field": "hi"},
            "color": {"field": "s", "type": "nominal", "legend": null}
          }
        },
        {
          "data": {"name": "aText"},
          "transform": [{"filter": "datum.g === 'k'"}],
          "mark": {"type": "text", "align": "right", "baseline": "middle", "font": "Liberation Serif", "fontWeight": "bold", "fontSize": 19, "color": "#111111"},
          "encoding": {"x": {"field": "x", "type": "quantitative"}, "y": {"field": "y", "type": "quantitative"}, "text": {"field": "t"}}
        },
        {
          "data": {"name": "aText"},
          "transform": [{"filter": "datum.g === 'r'"}],
          "mark": {"type": "text", "align": "right", "baseline": "middle", "font": "Liberation Serif", "fontWeight": "bold", "fontSize": 19, "color": "#ee2b2b"},
          "encoding": {"x": {"field": "x", "type": "quantitative"}, "y": {"field": "y", "type": "quantitative"}, "text": {"field": "t"}}
        },
        {
          "data": {"name": "aText"},
          "transform": [{"filter": "datum.g === 'b'"}],
          "mark": {"type": "text", "align": "right", "baseline": "middle", "font": "Liberation Serif", "fontWeight": "bold", "fontSize": 19, "color": "#3552a8"},
          "encoding": {"x": {"field": "x", "type": "quantitative"}, "y": {"field": "y", "type": "quantitative"}, "text": {"field": "t"}}
        },
        {
          "data": {"values": [{"t": "(a)", "x": 12.4, "y": 343.7}]},
          "mark": {"type": "text", "align": "center", "baseline": "middle", "font": "Liberation Serif", "fontWeight": "bold", "fontSize": 30, "color": "black"},
          "encoding": {"x": {"field": "x", "type": "quantitative"}, "y": {"field": "y", "type": "quantitative"}, "text": {"field": "t"}}
        }
      ]
    },
    {
      "width": 504.6,
      "height": 362,
      "layer": [
        {
          "data": {"name": "exp"},
          "mark": {"type": "point", "filled": false, "size": 100, "strokeWidth": 1.5, "opacity": 1},
          "encoding": {
            "x": {"field": "x", "type": "quantitative", "scale": {"domain": [9.23, 80], "nice": false, "zero": false},
              "axis": {"title": "Two theta (Degrees)", "values": [10,15,20,25,30,35,40,45,50,55,60,65,70,75,80], "labelExpr": "datum.value % 10 === 0 ? datum.label : ''", "tickSize": -6, "tickWidth": 1.5, "tickColor": "black", "labelPadding": 12, "labelFont": "Liberation Sans", "labelFontSize": 20, "labelFontWeight": "bold", "labelColor": "black", "labelFlush": false, "labelOverlap": false, "titleFont": "Liberation Serif", "titleFontSize": 30, "titleFontWeight": "bold", "titleColor": "black", "titlePadding": 8, "domainColor": "black", "domainWidth": 2, "grid": false}},
            "y": {"field": "y", "type": "quantitative", "scale": {"domain": [0, 362], "nice": false, "zero": false},
              "axis": {"title": "Intensity (a.u.)", "labels": false, "ticks": false, "domain": false, "grid": false, "titleFont": "Liberation Serif", "titleFontSize": 30, "titleFontWeight": "bold", "titleColor": "black", "titlePadding": 20}},
            "color": {"datum": "Experimental data", "type": "nominal",
              "scale": {"domain": ["Difference plot", "Bragg positions", "Experimental data", "Calculated data"], "range": ["#111111", "#4a5dbb", "#ee3030", "#23843a"]},
              "legend": {
                "title": null, "orient": "none", "legendX": 266, "legendY": 30,
                "strokeColor": "black", "fillColor": "white", "padding": 5,
                "labelFont": "Liberation Sans", "labelFontSize": 20, "labelFontWeight": "bold", "labelColor": "black",
                "labelOffset": 25, "labelLimit": 400, "symbolSize": 100, "symbolStrokeWidth": 1.5, "rowPadding": 5,
                "labelExpr": "datum.label === 'Bragg positions' ? '\u00a0Bragg positions' : datum.label",
                "encode": {"legend": {"strokeWidth": {"value": 1.5}}}
              }
            },
            "shape": {"datum": "Experimental data", "type": "nominal",
              "scale": {"domain": ["Difference plot", "Bragg positions", "Experimental data", "Calculated data"], "range": ["M-3,0L5,0", "M0,-1.1L0,1.1", "M-1,-1L1,1M-1,1L1,-1", "M-3,0L5,0"]},
              "legend": {
                "title": null, "orient": "none", "legendX": 266, "legendY": 30,
                "strokeColor": "black", "fillColor": "white", "padding": 5,
                "labelFont": "Liberation Sans", "labelFontSize": 20, "labelFontWeight": "bold", "labelColor": "black",
                "labelOffset": 25, "labelLimit": 400, "symbolSize": 100, "symbolStrokeWidth": 1.5, "rowPadding": 5,
                "labelExpr": "datum.label === 'Bragg positions' ? '\u00a0Bragg positions' : datum.label",
                "encode": {"legend": {"strokeWidth": {"value": 1.5}}}
              }
            }
          }
        },
        {
          "data": {"name": "calc"},
          "mark": {"type": "line", "strokeWidth": 1.6},
          "encoding": {
            "x": {"field": "x", "type": "quantitative"},
            "y": {"field": "y", "type": "quantitative"},
            "color": {"datum": "Calculated data", "type": "nominal"}
          }
        },
        {
          "data": {"name": "bragg"},
          "mark": {"type": "rule", "strokeWidth": 1},
          "encoding": {
            "x": {"field": "x", "type": "quantitative"},
            "y": {"datum": 57},
            "y2": {"datum": 65.3},
            "color": {"datum": "Bragg positions", "type": "nominal"}
          }
        },
        {
          "data": {"name": "diff"},
          "mark": {"type": "line", "strokeWidth": 1.5},
          "encoding": {
            "x": {"field": "x", "type": "quantitative"},
            "y": {"field": "y", "type": "quantitative"},
            "color": {"datum": "Difference plot", "type": "nominal"}
          }
        },
        {
          "data": {"values": [{"t": "(b)", "x": 13.3, "y": 342}]},
          "mark": {"type": "text", "align": "center", "baseline": "middle", "font": "Liberation Serif", "fontWeight": "bold", "fontSize": 30, "color": "black"},
          "encoding": {"x": {"field": "x", "type": "quantitative"}, "y": {"field": "y", "type": "quantitative"}, "text": {"field": "t"}}
        }
      ]
    }
  ],
  "columns": 1,
  "spacing": 2,
  "resolve": {"scale": {"color": "independent", "shape": "independent"}, "legend": {"color": "independent", "shape": "independent"}}
}
